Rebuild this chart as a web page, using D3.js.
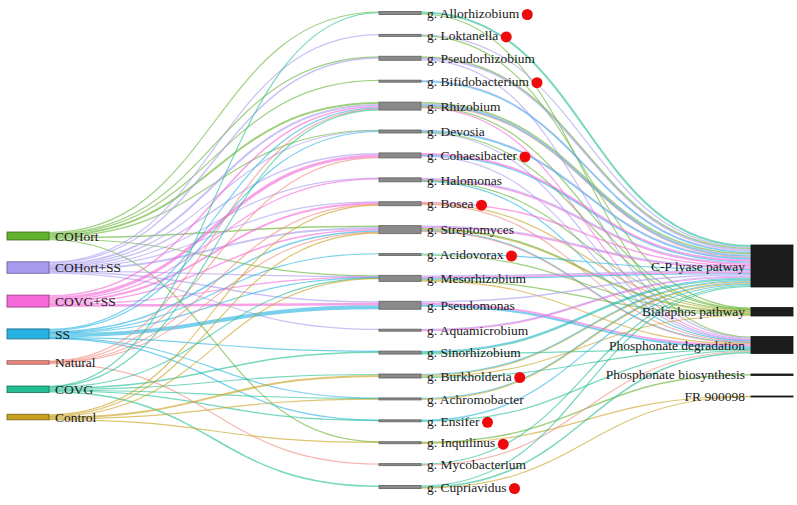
<!DOCTYPE html>
<html>
<head>
<meta charset="utf-8">
<script src="https://cdn.jsdelivr.net/npm/d3@7"></script>
<style>
  body { margin: 0; background: #fff; }
  text { font-family: "Liberation Serif", "DejaVu Serif", serif; font-size: 13.5px; fill: #1a1a1a; }
</style>
</head>
<body>
<div id="chart"></div>
<script>
// treatments (left column)
var treatments = ["COHort", "COHort+SS", "COVG+SS", "SS", "Natural", "COVG", "Control"];
var treatmentColors = ["#63b32e", "#a99cf0", "#f669d8", "#27b3e2", "#f08a80", "#22bf94", "#c9a11f"];
// genera (middle column)
var genera = ["g. Allorhizobium", "g. Loktanella", "g. Pseudorhizobium", "g. Bifidobacterium", "g. Rhizobium",
    "g. Devosia", "g. Cohaesibacter", "g. Halomonas", "g. Bosea", "g. Streptomyces", "g. Acidovorax",
    "g. Mesorhizobium", "g. Pseudomonas", "g. Aquamicrobium", "g. Sinorhizobium", "g. Burkholderia",
    "g. Achromobacter", "g. Ensifer", "g. Inquilinus", "g. Mycobacterium", "g. Cupriavidus"];
// genera marked with a red dot
var markedGenera = ["g. Allorhizobium", "g. Loktanella", "g. Bifidobacterium", "g. Cohaesibacter", "g. Bosea",
    "g. Acidovorax", "g. Burkholderia", "g. Ensifer", "g. Inquilinus", "g. Cupriavidus"];
// pathways (right column)
var pathways = ["C-P lyase patway", "Bialaphos pathway", "Phosphonate degradation", "Phosphonate biosynthesis", "FR 900098"];

// treatment -> genus
var treatmentLinks = [
    ["COHort", "g. Allorhizobium", 1], ["COHort", "g. Pseudorhizobium", 1], ["COHort", "g. Rhizobium", 2],
    ["COHort", "g. Devosia", 0.5], ["COHort", "g. Streptomyces", 1.5], ["COHort", "g. Mesorhizobium", 1],
    ["COHort", "g. Inquilinus", 0.5], ["COHort", "g. Bifidobacterium", 0.5],
    ["COHort+SS", "g. Pseudorhizobium", 1.5], ["COHort+SS", "g. Rhizobium", 2], ["COHort+SS", "g. Devosia", 0.5],
    ["COHort+SS", "g. Cohaesibacter", 1.5], ["COHort+SS", "g. Halomonas", 0.5], ["COHort+SS", "g. Streptomyces", 2],
    ["COHort+SS", "g. Mesorhizobium", 0.5], ["COHort+SS", "g. Pseudomonas", 1.5], ["COHort+SS", "g. Aquamicrobium", 0.5],
    ["COHort+SS", "g. Loktanella", 0.5], ["COHort+SS", "g. Bosea", 0.5],
    ["COVG+SS", "g. Cohaesibacter", 3], ["COVG+SS", "g. Bosea", 2], ["COVG+SS", "g. Halomonas", 1],
    ["COVG+SS", "g. Streptomyces", 1.5], ["COVG+SS", "g. Pseudomonas", 2.5], ["COVG+SS", "g. Rhizobium", 1.5],
    ["COVG+SS", "g. Mesorhizobium", 0.5],
    ["SS", "g. Pseudomonas", 4], ["SS", "g. Devosia", 1], ["SS", "g. Acidovorax", 0.5], ["SS", "g. Mesorhizobium", 0.5],
    ["SS", "g. Streptomyces", 1.5], ["SS", "g. Sinorhizobium", 0.5], ["SS", "g. Achromobacter", 0.5],
    ["SS", "g. Ensifer", 0.5], ["SS", "g. Rhizobium", 1],
    ["Natural", "g. Mycobacterium", 1], ["Natural", "g. Rhizobium", 1], ["Natural", "g. Streptomyces", 0.5],
    ["Natural", "g. Bosea", 0.5], ["Natural", "g. Cohaesibacter", 0.5],
    ["COVG", "g. Sinorhizobium", 1.5], ["COVG", "g. Burkholderia", 1], ["COVG", "g. Cupriavidus", 1.5],
    ["COVG", "g. Ensifer", 0.5], ["COVG", "g. Allorhizobium", 0.5], ["COVG", "g. Achromobacter", 0.5],
    ["COVG", "g. Mesorhizobium", 0.5], ["COVG", "g. Rhizobium", 0.5],
    ["Control", "g. Burkholderia", 2], ["Control", "g. Streptomyces", 1], ["Control", "g. Mesorhizobium", 0.5],
    ["Control", "g. Achromobacter", 0.5], ["Control", "g. Inquilinus", 0.5], ["Control", "g. Bosea", 1]
];

// treatment, genus -> pathway
var pathwayLinks = [
    ["COVG", "g. Allorhizobium", "C-P lyase patway", 2], ["COHort", "g. Allorhizobium", "Phosphonate degradation", 1],
    ["COHort+SS", "g. Loktanella", "C-P lyase patway", 1], ["COHort", "g. Loktanella", "Bialaphos pathway", 1],
    ["COHort+SS", "g. Pseudorhizobium", "C-P lyase patway", 2], ["COHort", "g. Pseudorhizobium", "C-P lyase patway", 1],
    ["COHort+SS", "g. Pseudorhizobium", "Phosphonate degradation", 1],
    ["COHort+SS", "g. Bifidobacterium", "C-P lyase patway", 1], ["SS", "g. Bifidobacterium", "C-P lyase patway", 1],
    ["COHort", "g. Rhizobium", "C-P lyase patway", 1.5], ["COHort+SS", "g. Rhizobium", "C-P lyase patway", 1],
    ["Natural", "g. Rhizobium", "C-P lyase patway", 1], ["SS", "g. Rhizobium", "C-P lyase patway", 1],
    ["COVG+SS", "g. Rhizobium", "Phosphonate degradation", 1], ["COHort", "g. Rhizobium", "Bialaphos pathway", 0.5],
    ["SS", "g. Devosia", "C-P lyase patway", 1.5], ["COHort+SS", "g. Devosia", "C-P lyase patway", 0.5],
    ["COHort+SS", "g. Devosia", "Phosphonate degradation", 0.5], ["COHort", "g. Devosia", "Bialaphos pathway", 0.5],
    ["COVG+SS", "g. Cohaesibacter", "C-P lyase patway", 2], ["SS", "g. Cohaesibacter", "C-P lyase patway", 1],
    ["COHort+SS", "g. Cohaesibacter", "Phosphonate degradation", 0.5],
    ["COVG+SS", "g. Halomonas", "C-P lyase patway", 1.5], ["COHort+SS", "g. Halomonas", "C-P lyase patway", 1],
    ["SS", "g. Halomonas", "Phosphonate degradation", 1], ["COHort", "g. Halomonas", "Bialaphos pathway", 0.5],
    ["COVG+SS", "g. Bosea", "C-P lyase patway", 1.5], ["Control", "g. Bosea", "Bialaphos pathway", 1],
    ["Natural", "g. Bosea", "Phosphonate degradation", 0.5],
    ["COVG+SS", "g. Streptomyces", "C-P lyase patway", 1.5], ["COHort+SS", "g. Streptomyces", "C-P lyase patway", 1],
    ["Control", "g. Streptomyces", "Bialaphos pathway", 1], ["COHort", "g. Streptomyces", "Bialaphos pathway", 1],
    ["SS", "g. Streptomyces", "Phosphonate degradation", 1], ["Natural", "g. Streptomyces", "Phosphonate degradation", 0.5],
    ["SS", "g. Acidovorax", "C-P lyase patway", 1], ["COHort", "g. Acidovorax", "Bialaphos pathway", 1],
    ["COHort+SS", "g. Mesorhizobium", "C-P lyase patway", 1.5], ["COVG+SS", "g. Mesorhizobium", "C-P lyase patway", 1.5],
    ["SS", "g. Mesorhizobium", "C-P lyase patway", 1], ["COHort", "g. Mesorhizobium", "Bialaphos pathway", 1],
    ["Control", "g. Mesorhizobium", "Phosphonate degradation", 1],
    ["COVG+SS", "g. Pseudomonas", "Phosphonate degradation", 2], ["SS", "g. Pseudomonas", "Phosphonate degradation", 2],
    ["COHort+SS", "g. Pseudomonas", "C-P lyase patway", 1.5],
    ["COHort+SS", "g. Aquamicrobium", "C-P lyase patway", 1], ["COVG+SS", "g. Aquamicrobium", "C-P lyase patway", 1],
    ["COVG", "g. Sinorhizobium", "C-P lyase patway", 1.5], ["SS", "g. Sinorhizobium", "C-P lyase patway", 1],
    ["COVG", "g. Sinorhizobium", "Phosphonate degradation", 0.5],
    ["Control", "g. Burkholderia", "C-P lyase patway", 1], ["Control", "g. Burkholderia", "Bialaphos pathway", 1],
    ["COVG", "g. Burkholderia", "Phosphonate degradation", 1], ["SS", "g. Burkholderia", "C-P lyase patway", 1],
    ["SS", "g. Achromobacter", "C-P lyase patway", 1], ["Control", "g. Achromobacter", "C-P lyase patway", 1],
    ["SS", "g. Ensifer", "C-P lyase patway", 1], ["COVG", "g. Ensifer", "Phosphonate degradation", 1],
    ["COHort", "g. Inquilinus", "Phosphonate biosynthesis", 1.5], ["Control", "g. Inquilinus", "FR 900098", 0.5],
    ["Natural", "g. Mycobacterium", "Phosphonate degradation", 1], ["COVG", "g. Mycobacterium", "C-P lyase patway", 1],
    ["COVG", "g. Cupriavidus", "C-P lyase patway", 1], ["COVG", "g. Cupriavidus", "Phosphonate degradation", 1.5],
    ["Control", "g. Cupriavidus", "FR 900098", 0.5]
];

var width = 797, height = 505;
var nodeWidth = 42;
// column layout settings
var midTop = 11.5, midBottom = 488.5, midPad = 19.9;
var leftTop = 232, leftPad = 21.8;
var rightTop = 245, rightPad = 20.5;

var svg = d3.select("#chart").append("svg")
    .attr("width", width)
    .attr("height", height);

var color = d3.scaleOrdinal().domain(treatments).range(treatmentColors);
var xCol = d3.scalePoint().domain([0, 1, 2]).range([7, width - 4 - nodeWidth]);

// build nodes
var nodeMap = {};
function makeNode(name, col) {
    var n = {name: name, col: col, inLinks: [], outLinks: [], inSum: 0, outSum: 0};
    nodeMap[col + "|" + name] = n;
    return n;
}
var leftNodes = treatments.map(function (d) { return makeNode(d, 0); });
var midNodes = genera.map(function (d) { return makeNode(d, 1); });
var rightNodes = pathways.map(function (d) { return makeNode(d, 2); });

var links = [];
treatmentLinks.forEach(function (r) {
    links.push({source: nodeMap["0|" + r[0]], target: nodeMap["1|" + r[1]], treat: r[0], value: r[2]});
});
pathwayLinks.forEach(function (r) {
    links.push({source: nodeMap["1|" + r[1]], target: nodeMap["2|" + r[2]], treat: r[0], value: r[3]});
});
links.forEach(function (l) {
    l.source.outLinks.push(l); l.source.outSum += l.value;
    l.target.inLinks.push(l); l.target.inSum += l.value;
});
var allNodes = leftNodes.concat(midNodes, rightNodes);
allNodes.forEach(function (n) { n.value = Math.max(n.inSum, n.outSum); });

// value -> pixel scale, fitted on the middle column
var midTotal = d3.sum(midNodes, function (d) { return d.value; });
var ky = (midBottom - midTop - (midNodes.length - 1) * midPad) / midTotal;
var yv = d3.scaleLinear().domain([0, 1]).range([0, ky]);

function stack(nodes, top, pad) {
    var y = top;
    nodes.forEach(function (n) {
        n.x0 = xCol(n.col); n.x1 = n.x0 + nodeWidth;
        n.y0 = y; n.y1 = y + yv(n.value);
        y = n.y1 + pad;
    });
}
stack(leftNodes, leftTop, leftPad);
stack(midNodes, midTop, midPad);
stack(rightNodes, rightTop, rightPad);

// link positions at each node
allNodes.forEach(function (n) {
    n.outLinks.sort(function (a, b) {
        return (a.target.y0 - b.target.y0) || (treatments.indexOf(a.treat) - treatments.indexOf(b.treat));
    });
    n.inLinks.sort(function (a, b) {
        return (a.source.y0 - b.source.y0) || (treatments.indexOf(a.treat) - treatments.indexOf(b.treat));
    });
    var y = n.y0;
    n.outLinks.forEach(function (l) { l.width = yv(l.value); l.y0 = y + l.width / 2; y += l.width; });
    y = n.y0;
    n.inLinks.forEach(function (l) { l.y1 = y + yv(l.value) / 2; y += yv(l.value); });
});

var linkPath = d3.linkHorizontal();

svg.append("g")
    .attr("fill", "none")
    .selectAll("path")
    .data(links)
    .enter().append("path")
    .attr("d", function (d) {
        return linkPath({source: [d.source.x1, d.y0], target: [d.target.x0, d.y1]});
    })
    .attr("stroke", function (d) { return color(d.treat); })
    .attr("stroke-opacity", 0.62)
    .attr("stroke-width", function (d) { return Math.max(1.2, d.width); });

// nodes
svg.append("g")
    .selectAll("rect")
    .data(allNodes)
    .enter().append("rect")
    .attr("x", function (d) { return d.x0; })
    .attr("y", function (d) { return d.y0; })
    .attr("width", nodeWidth)
    .attr("height", function (d) { return Math.max(1, d.y1 - d.y0); })
    .attr("fill", function (d) {
        if (d.col === 0) return color(d.name);
        return d.col === 1 ? "#8a8a8a" : "#1c1c1c";
    })
    .attr("stroke", function (d) {
        if (d.col === 0) return d3.rgb(color(d.name)).darker(1.6);
        return d.col === 1 ? "#5e5e5e" : "#111";
    })
    .attr("stroke-opacity", 0.8);

// labels
var labels = svg.append("g")
    .selectAll("text")
    .data(allNodes)
    .enter().append("text")
    .attr("x", function (d) { return d.col === 2 ? d.x0 - 6 : d.x1 + 6; })
    .attr("y", function (d) { return (d.y0 + d.y1) / 2; })
    .attr("dy", "0.35em")
    .attr("text-anchor", function (d) { return d.col === 2 ? "end" : "start"; })
    .text(function (d) { return d.name; });

// red dots after marked genera
var dots = [];
labels.each(function (d) {
    if (d.col === 1 && markedGenera.indexOf(d.name) >= 0) {
        dots.push({x: d.x1 + 6 + this.getComputedTextLength() + 8, y: (d.y0 + d.y1) / 2 + 1.5});
    }
});
svg.append("g")
    .selectAll("circle")
    .data(dots)
    .enter().append("circle")
    .attr("cx", function (d) { return d.x; })
    .attr("cy", function (d) { return d.y; })
    .attr("r", 5.5)
    .attr("fill", "#ee0a0a");
</script>
</body>
</html>
